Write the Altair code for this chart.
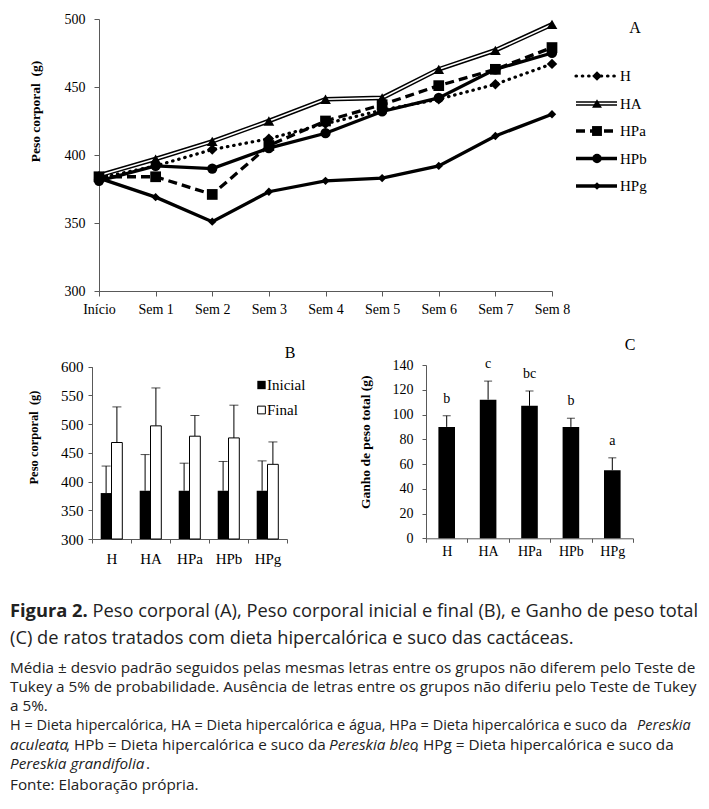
import altair as alt
import pandas as pd

# ---------------- data ----------------
weeks = ["Início", "Sem 1", "Sem 2", "Sem 3", "Sem 4", "Sem 5", "Sem 6", "Sem 7", "Sem 8"]
series_names = ["H", "HA", "HPa", "HPb", "HPg"]
peso_H = [383, 392, 404, 412, 423, 433, 441, 452, 467]
peso_HA = [385, 397, 410, 425, 441, 442, 463, 477, 496]
peso_HPa = [384, 384, 371, 407, 425, 437, 451, 463, 479]
peso_HPb = [381, 392, 390, 405, 416, 432, 442, 463, 475]
peso_HPg = [383, 369, 351, 373, 381, 383, 392, 414, 430]

groups = ["H", "HA", "HPa", "HPb", "HPg"]
inicial = [380, 384, 384, 384, 384]
inicial_dp = [47, 63, 48, 51, 52]
final = [468, 497, 479, 476, 430]
final_dp = [62, 66, 36, 57, 39]
legend_b = ["Inicial", "Final"]

ganho = [90, 112, 107, 90, 55]
ganho_dp = [9, 15, 12, 7, 10]
letras = ["b", "c", "bc", "b", "a"]

ticks_A = [300, 350, 400, 450, 500]
ticks_B = [300, 350, 400, 450, 500, 550, 600]
ticks_C = [0, 20, 40, 60, 80, 100, 120, 140]

cap_title_bold = "Figura 2."
cap_title_1 = "Peso corporal (A), Peso corporal inicial e final (B), e Ganho de peso total"
cap_title_2 = "(C) de ratos tratados com dieta hipercalórica e suco das cactáceas."
cap_3 = "Média ± desvio padrão seguidos pelas mesmas letras entre os grupos não diferem pelo Teste de"
cap_4 = "Tukey a 5% de probabilidade. Ausência de letras entre os grupos não diferiu pelo Teste de Tukey"
cap_5 = "a 5%."
cap_6a = "H = Dieta hipercalórica, HA = Dieta hipercalórica e água, HPa = Dieta hipercalórica e suco da"
cap_6b = "Pereskia"
cap_7a = "aculeata"
cap_7b = ", HPb = Dieta hipercalórica e suco da"
cap_7c = "Pereskia bleo"
cap_7d = ", HPg = Dieta hipercalórica e suco da"
cap_8a = "Pereskia grandifolia"
cap_8b = "."
cap_9 = "Fonte: Elaboração própria."

# ---------------- style ----------------
W, HT = 693, 793
SERIF = "Liberation Serif"
SANS = "Open Sans"
AXC = "#595959"
TXT = "#222222"


def axis(orient, offset, **kw):
    base = dict(orient=orient, offset=offset, grid=False, domainColor=AXC, tickColor=AXC,
                labelColor="black", labelFont=SERIF, title=None, labelAngle=0,
                domainWidth=1, tickWidth=1)
    base.update(kw)
    return alt.Axis(**base)


dummy = pd.DataFrame({"d": [0]})


def label(text, x, y, size, font=SANS, weight="normal", style="normal", color=TXT, align="left"):
    return alt.Chart(dummy).mark_text(
        text=text, font=font, fontSize=size, fontWeight=weight, fontStyle=style,
        color=color, align=align, baseline="middle"
    ).encode(x=alt.value(x), y=alt.value(y))


# ---------------- chart A ----------------
dfA = pd.DataFrame({
    "week": weeks * 5,
    "serie": [s for s in series_names for _ in weeks],
    "peso": peso_H + peso_HA + peso_HPa + peso_HPb + peso_HPg,
})
sxA = alt.Scale(type="point", domain=weeks, range=[91, 544], padding=0)
syA = alt.Scale(domain=[300, 500], range=[283, 11], nice=False, zero=False)
axA_x = axis("bottom", -510, labelFontSize=14, tickSize=5, labelPadding=6)
axA_y = axis("left", -91, values=ticks_A, labelFontSize=14, tickSize=5, labelPadding=9,
             title="Peso corporal\u00a0\u00a0(g)", titleFont=SERIF, titleFontSize=13.5,
             titleFontWeight="bold", titleColor="black", titleX=-64, titleY=103,
             titleBaseline="middle", titleAlign="center")
encA = dict(
    x=alt.X("week:N", scale=sxA, sort=weeks, axis=axA_x),
    y=alt.Y("peso:Q", scale=syA, axis=axA_y),
)

baseA = alt.Chart(dfA)


def fA(name):
    return baseA.transform_filter(alt.datum.serie == name)


styles = {
    "H": dict(line=[dict(strokeWidth=3.2, strokeDash=[0.5, 5.8], strokeCap="round", color="black")],
              shape="diamond", size=110),
    "HA": dict(line=[dict(strokeWidth=4.6, color="black"), dict(strokeWidth=1.6, color="white")],
               shape="triangle-up", size=115),
    "HPa": dict(line=[dict(strokeWidth=3.3, strokeDash=[9, 5], color="black")],
                shape="square", size=115),
    "HPb": dict(line=[dict(strokeWidth=3.3, color="black")], shape="circle", size=105),
    "HPg": dict(line=[dict(strokeWidth=3.3, color="black")], shape="diamond", size=70),
}

layersA = []
for name in ["HA", "H", "HPa", "HPb", "HPg"]:
    for st in styles[name]["line"]:
        layersA.append(fA(name).mark_line(**st).encode(**encA))
for name in ["HA", "H", "HPa", "HPb", "HPg"]:
    layersA.append(fA(name).mark_point(shape=styles[name]["shape"], size=styles[name]["size"],
                                       filled=True, color="black", opacity=1).encode(**encA))
chartA = alt.layer(*layersA)

# legend A
dfLA = pd.DataFrame({"serie": series_names})
syLA = alt.Scale(type="point", domain=series_names, range=[68, 178], padding=0)
yLA = alt.Y("serie:N", scale=syLA, axis=None)
layersLA = []
for name in series_names:
    base = alt.Chart(dfLA).transform_filter(alt.datum.serie == name)
    for st in styles[name]["line"]:
        layersLA.append(base.mark_rule(**st).encode(x=alt.value(568), x2=alt.value(609), y=yLA))
    layersLA.append(base.mark_point(shape=styles[name]["shape"], size=styles[name]["size"] * 0.85,
                                    filled=True, color="black", opacity=1)
                    .encode(x=alt.value(589), y=yLA))
layersLA.append(alt.Chart(dfLA).mark_text(align="left", baseline="middle", font=SERIF,
                                          fontSize=15, color="black")
                .encode(x=alt.value(612), y=yLA, text="serie:N"))
legendA = alt.layer(*layersLA)

# ---------------- chart B ----------------
dfB = pd.DataFrame({
    "g": groups,
    "ini": inicial,
    "ini_top": [a + b for a, b in zip(inicial, inicial_dp)],
    "fin": final,
    "fin_top": [a + b for a, b in zip(final, final_dp)],
})
sxB = alt.Scale(type="band", domain=groups, range=[84, 279], paddingInner=0, paddingOuter=0)
syB = alt.Scale(domain=[300, 600], range=[531, 358.7], nice=False, zero=False)
axB_x = axis("bottom", -262, labelFontSize=15, tickSize=4, labelPadding=8, tickBand="extent")
axB_y = axis("left", -84, values=ticks_B, labelFontSize=15, tickSize=4, labelPadding=5,
             title="Peso corporal\u00a0\u00a0(g)", titleFont=SERIF, titleFontSize=12.5,
             titleFontWeight="bold", titleColor="black", titleX=-59, titleY=429,
             titleBaseline="middle", titleAlign="center")
xB = alt.X("g:N", scale=sxB, sort=groups, axis=axB_x)


def yB(field):
    return alt.Y(field, type="quantitative", scale=syB, axis=axB_y)


baseB = alt.Chart(dfB)
BW = 10.8
chartB = alt.layer(
    baseB.mark_rule(xOffset=-BW / 2, color="black", strokeWidth=1).encode(x=xB, y=yB("ini"), y2="ini_top"),
    baseB.mark_tick(xOffset=-BW / 2, size=9, thickness=1, color="black").encode(x=xB, y=yB("ini_top")),
    baseB.mark_rule(xOffset=BW / 2, color="black", strokeWidth=1).encode(x=xB, y=yB("fin"), y2="fin_top"),
    baseB.mark_tick(xOffset=BW / 2, size=9, thickness=1, color="black").encode(x=xB, y=yB("fin_top")),
    baseB.mark_bar(width=BW, xOffset=-BW / 2, color="black").encode(x=xB, y=yB("ini"), y2=alt.datum(300)),
    baseB.mark_bar(width=BW, xOffset=BW / 2, fill="white", stroke="black", strokeWidth=1).encode(x=xB, y=yB("fin"), y2=alt.datum(300)),
)

dfLB = pd.DataFrame({"k": legend_b})
syLB = alt.Scale(type="point", domain=legend_b, range=[377, 402], padding=0)
yLB = alt.Y("k:N", scale=syLB, axis=None)
legendB = alt.layer(
    alt.Chart(dfLB).transform_filter(alt.datum.k == "Inicial").mark_square(size=70, color="black", opacity=1)
    .encode(x=alt.value(253.5), y=yLB),
    alt.Chart(dfLB).transform_filter(alt.datum.k == "Final").mark_square(size=60, fill="white", stroke="black", strokeWidth=1, opacity=1)
    .encode(x=alt.value(253.5), y=yLB),
    alt.Chart(dfLB).mark_text(align="left", baseline="middle", font=SERIF, fontSize=15, color="black")
    .encode(x=alt.value(259), y=yLB, text="k:N"),
)

# ---------------- chart C ----------------
dfC = pd.DataFrame({
    "g": groups,
    "ganho": ganho,
    "top": [a + b for a, b in zip(ganho, ganho_dp)],
    "letra": letras,
})
sxC = alt.Scale(type="band", domain=groups, range=[418, 625], paddingInner=0, paddingOuter=0)
syC = alt.Scale(domain=[0, 140], range=[530.3, 357], nice=False, zero=False)
axC_x = axis("bottom", -262.7, labelFontSize=14, tickSize=4, labelPadding=2, tickBand="extent")
axC_y = axis("left", -418, values=ticks_C, labelFontSize=14, tickSize=4, labelPadding=9,
             title="Ganho de peso total (g)", titleFont=SERIF, titleFontSize=13.5,
             titleFontWeight="bold", titleColor="black", titleX=-61, titleY=433.7,
             titleBaseline="middle", titleAlign="center")
xC = alt.X("g:N", scale=sxC, sort=groups, axis=axC_x)


def yC(field):
    return alt.Y(field, type="quantitative", scale=syC, axis=axC_y)


baseC = alt.Chart(dfC)
chartC = alt.layer(
    baseC.mark_rule(color="black", strokeWidth=1).encode(x=xC, y=yC("ganho"), y2="top"),
    baseC.mark_tick(size=8, thickness=1, color="black").encode(x=xC, y=yC("top")),
    baseC.mark_bar(width=16.6, color="black").encode(x=xC, y=yC("ganho")),
    baseC.mark_text(dy=-17, baseline="middle", font=SERIF, fontSize=14, color="black")
    .encode(x=xC, y=yC("top"), text="letra:N"),
)

# ---------------- panel letters & caption ----------------
TS = 18.3
BS = 15.3
L6 = 14.5
texts = [
    label("A", 627, 20, 16, font=SERIF, color="black", align="center"),
    label("B", 282, 345, 16, font=SERIF, color="black", align="center"),
    label("C", 622, 337, 16, font=SERIF, color="black", align="center"),
    label(cap_title_bold, 2, 604, TS, weight="bold"),
    label(cap_title_1, 84.5, 604, TS),
    label(cap_title_2, 2, 631, TS),
    label(cap_3, 2, 660, BS),
    label(cap_4, 2, 679, BS),
    label(cap_5, 2, 698, BS),
    label(cap_6a, 2, 718, L6),
    label(cap_6b, 629, 718, L6, style="italic"),
    label(cap_7a, 2, 737, BS, style="italic"),
    label(cap_7b, 58, 737, BS),
    label(cap_7c, 321, 737, BS, style="italic"),
    label(cap_7d, 407, 737, BS),
    label(cap_8a, 2, 756, BS, style="italic"),
    label(cap_8b, 138, 756, BS),
    label(cap_9, 2, 777, BS),
]

chart = alt.layer(chartA, legendA, chartB, legendB, chartC, *texts).resolve_scale(
    x="independent", y="independent"
).properties(
    width=W, height=HT, padding=0, background="white",
    autosize=alt.AutoSizeParams(type="none"),
).configure_view(strokeWidth=0)

chart.save("out.html", embed_options={"renderer": "svg", "actions": False})
